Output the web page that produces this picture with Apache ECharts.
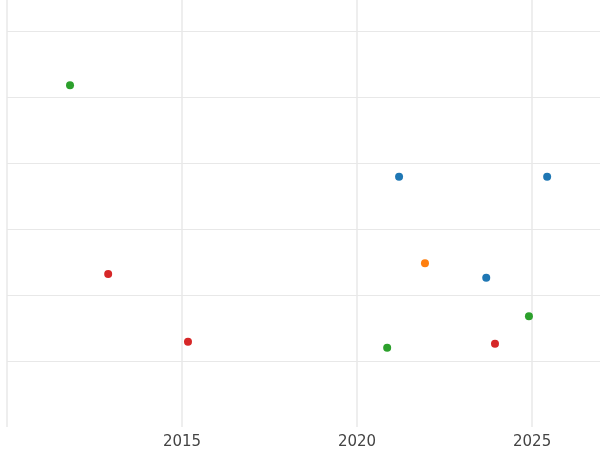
<!DOCTYPE html>
<html><head><meta charset="utf-8">
<script src="https://cdn.jsdelivr.net/npm/echarts@6/dist/echarts.min.js"></script>
<style>html,body{margin:0;background:#fff}#c{width:600px;height:450px}</style>
</head><body><div id="c"></div>
<script>
const blue = [[2021.2, 3.79], [2023.69, 2.26], [2025.43, 3.79]];
const orange = [[2021.94, 2.48]];
const green = [[2011.8, 5.18], [2020.86, 1.20], [2024.91, 1.68]];
const red = [[2012.89, 2.32], [2015.17, 1.29], [2023.94, 1.26]];
const colors = ['#1f77b4', '#ff7f0e', '#2ca02c', '#d62728'];

const g = '#e8e8e8', none = 'rgba(0,0,0,0)';
const chart = echarts.init(document.getElementById('c'));
const mk = (d, i) => ({type: 'scatter', data: d, symbolSize: 8, itemStyle: {color: colors[i], opacity: 1}});
chart.setOption({
  animation: false,
  grid: {left: 7, right: 0, top: 0, bottom: 23},
  xAxis: {
    type: 'value', min: 2010, max: 2026.94, interval: 5,
    axisLine: {show: false}, axisTick: {show: false},
    axisLabel: {color: '#444', fontSize: 15, fontFamily: 'DejaVu Sans', margin: 8,
      formatter: v => (v === 2010 ? '' : v), showMaxLabel: false},
    splitLine: {lineStyle: {color: [g, g, g, g, none], width: 1.5}}
  },
  yAxis: {
    type: 'value', min: 0, max: 6.47, interval: 1,
    axisLine: {show: false}, axisTick: {show: false}, axisLabel: {show: false},
    splitLine: {lineStyle: {color: [none, g, g, g, g, g, g, none], width: 1.2}}
  },
  series: [mk(blue, 0), mk(orange, 1), mk(green, 2), mk(red, 3)]
});
</script></body></html>
